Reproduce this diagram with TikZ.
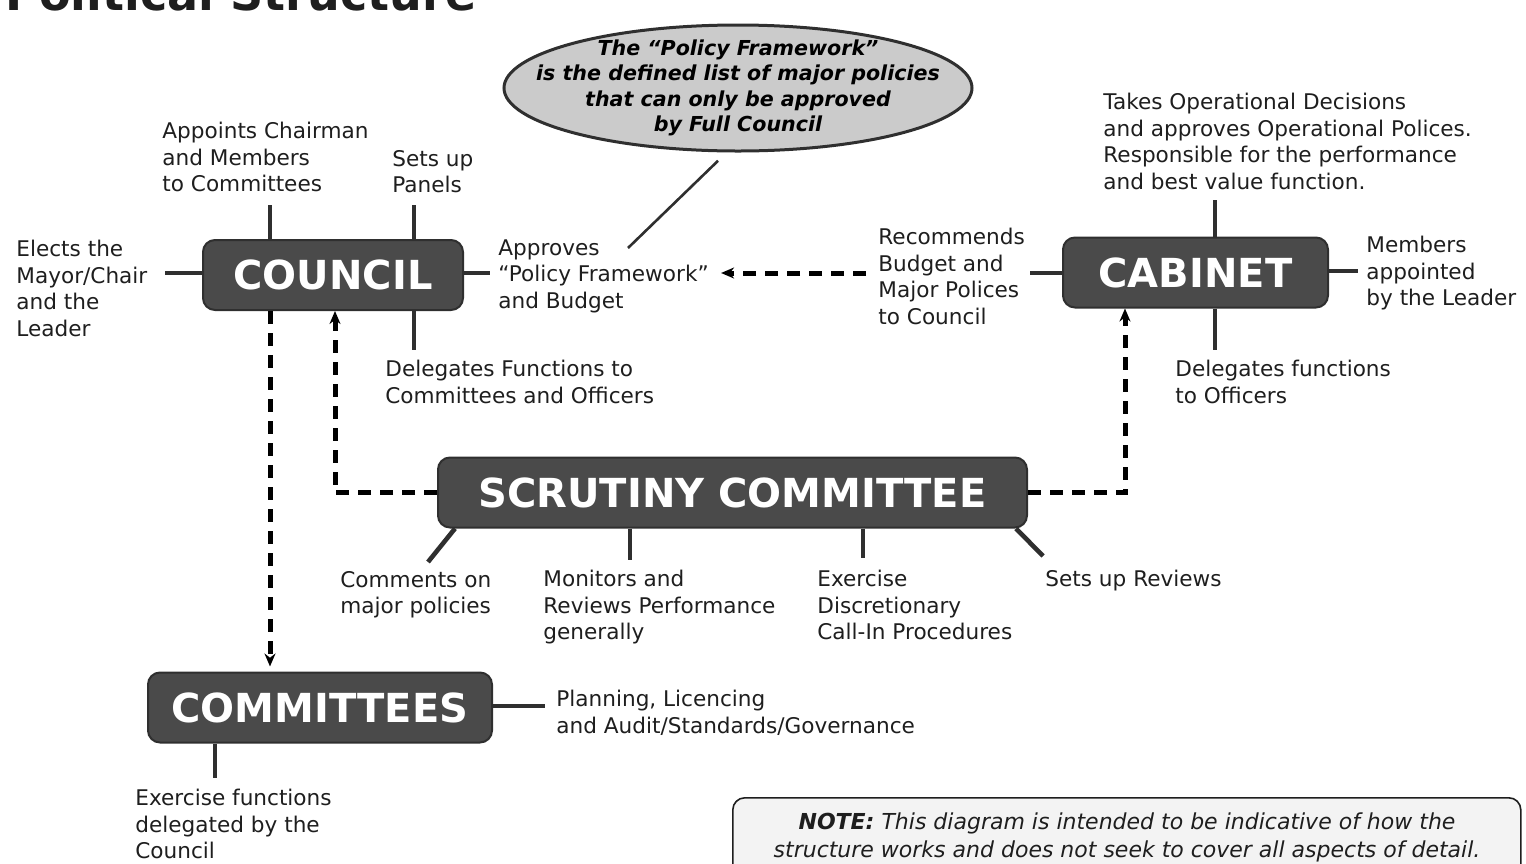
\documentclass[tikz,border=0pt]{standalone}
\usepackage{fontspec}
\setmainfont{DejaVu Sans}
\usetikzlibrary{shapes.geometric,arrows.meta}
\definecolor{boxfill}{HTML}{4A4A4A}
\definecolor{boxedge}{HTML}{2F2F2F}
\definecolor{ink}{HTML}{1E1E1E}
\definecolor{ellfill}{HTML}{CBCBCB}
\definecolor{notefill}{HTML}{F3F3F3}
\begin{document}
\begin{tikzpicture}[x=0.5pt,y=-0.5pt,
  box/.style={draw=boxedge, line width=1pt, fill=boxfill, rounded corners=6pt, text=white,
    font=\bfseries\fontsize{20}{24}\selectfont, inner sep=0pt, minimum height=35pt},
  lbl/.style={anchor=north west, inner sep=0pt, align=left, text=ink,
    font=\fontsize{10.8}{13.25}\selectfont},
  stub/.style={draw=boxedge, line width=2.3pt},
  dashline/.style={draw=black, line width=2.5pt, dash pattern=on 6.5pt off 4.5pt},
  tip/.style={-{Stealth[length=6.5pt,width=5.5pt]}}
]
\useasboundingbox (0,0) rectangle (1526,863);

% title (cut off at top, as in the reference)
\node[anchor=base west, inner sep=0pt, font=\bfseries\fontsize{23}{28}\selectfont, text=ink] (title) at (5,10) {Political Structure};

% ellipse callout
\node[ellipse, draw=boxedge, line width=1.5pt, fill=ellfill, minimum width=234pt, minimum height=63pt, inner sep=0pt] (pf) at (738,88) {};
\node[font=\bfseries\itshape\fontsize{10.3}{12.75}\selectfont, align=center, inner sep=0pt, text=black] (pftext) at (pf.center) {The “Policy Framework”\\is the defined list of major policies\\that can only be approved\\by Full Council};

% main boxes
\node[box, minimum width=130pt] (council) at (333,275) {COUNCIL};
\node[box, minimum width=132.5pt] (cabinet) at (1195.5,272.5) {CABINET};
\node[box, minimum width=294.5pt] (scrutiny) at (732.5,492.5) {SCRUTINY COMMITTEE};
\node[box, minimum width=172pt] (committees) at (320,707.5) {COMMITTEES};

% labels
\node[lbl] (appoints) at (162,122) {Appoints Chairman\\and Members\\to Committees};
\node[lbl] (setsup) at (392,150) {Sets up\\Panels};
\node[lbl] (elects) at (16,240) {Elects the\\Mayor/Chair\\and the\\Leader};
\node[lbl] (approves) at (498,239) {Approves\\“Policy Framework”\\and Budget};
\node[lbl] (delegC) at (385,360) {Delegates Functions to\\Committees and Officers};
\node[lbl] (recommends) at (878,228) {Recommends\\Budget and\\Major Polices\\to Council};
\node[lbl] (takes) at (1103,93) {Takes Operational Decisions\\and approves Operational Polices.\\Responsible for the performance\\and best value function.};
\node[lbl] (membersapp) at (1366,236) {Members\\appointed\\by the Leader};
\node[lbl] (delegO) at (1175,360) {Delegates functions\\to Officers};
\node[lbl] (comments) at (340,571) {Comments on\\major policies};
\node[lbl] (monitors) at (543,570) {Monitors and\\Reviews Performance\\generally};
\node[lbl] (exercise) at (817,570) {Exercise\\Discretionary\\Call-In Procedures};
\node[lbl] (setsupR) at (1045,570) {Sets up Reviews};
\node[lbl] (planning) at (556,690) {Planning, Licencing\\and Audit/Standards/Governance};
\node[lbl] (exercisef) at (135,789) {Exercise functions\\delegated by the\\Council};

% note box
\node[draw=ink, line width=0.8pt, fill=notefill, rounded corners=6pt, minimum width=394pt, minimum height=40pt, anchor=north west, inner sep=0pt] (note) at (732,797) {};
\node[font=\itshape\fontsize{11}{14}\selectfont, align=center, inner sep=0pt, text=ink] (notetext) at (1127,837) {\textbf{NOTE:} This diagram is intended to be indicative of how the\\structure works and does not seek to cover all aspects of detail.};

% callout pointer
\coordinate (pfend) at (628,248);
\draw[draw=boxedge, line width=1.3pt, shorten <=6pt] (pf.260) -- (pfend);

% stubs of council
\coordinate (cu1) at (270,205); \draw[stub] (cu1) -- (cu1 |- council.north);
\coordinate (cu2) at (414,205); \draw[stub] (cu2) -- (cu2 |- council.north);
\coordinate (cl) at (165,273); \draw[stub] (cl) -- (cl -| council.west);
\coordinate (cr) at (490,273); \draw[stub] (council.east |- cr) -- (cr);
\coordinate (cb) at (414,350); \draw[stub] (cb |- council.south) -- (cb);
% stubs of cabinet
\coordinate (kt) at (1215,200); \draw[stub] (kt) -- (kt |- cabinet.north);
\coordinate (kb) at (1215,350); \draw[stub] (kb |- cabinet.south) -- (kb);
\coordinate (kr) at (1358,271); \draw[stub] (cabinet.east |- kr) -- (kr);
\coordinate (kl) at (1030,273); \draw[stub] (kl) -- (kl -| cabinet.west);
% stubs of scrutiny
\coordinate (s1) at (428,562); \draw[stub] ([xshift=9pt]scrutiny.south west) -- (s1);
\coordinate (s2) at (630,560); \draw[stub] (s2 |- scrutiny.south) -- (s2);
\coordinate (s3) at (863,558); \draw[stub] (s3 |- scrutiny.south) -- (s3);
\coordinate (s4) at (1043,556); \draw[stub] ([xshift=-6pt]scrutiny.south east) -- (s4);
% stubs of committees
\coordinate (mr) at (545,706); \draw[stub] (committees.east |- mr) -- (mr);
\coordinate (mb) at (215,778); \draw[stub] (mb |- committees.south) -- (mb);

% dashed connectors
\coordinate (xd) at (270,0);
\draw[dashline, tip, shorten >=2.5pt] (xd |- council.south) -- (xd |- committees.north);
\coordinate (xl) at (335,0);
\draw[dashline, tip] (scrutiny.west) -| (xl |- council.south);
\coordinate (xr) at (1125,0);
\draw[dashline, tip] (scrutiny.east) -| (xr |- cabinet.south);
\draw[dashline, tip, shorten <=6pt, shorten >=6pt] (recommends.west |- cr) -- (approves.east |- cr);
\end{tikzpicture}
\end{document}
